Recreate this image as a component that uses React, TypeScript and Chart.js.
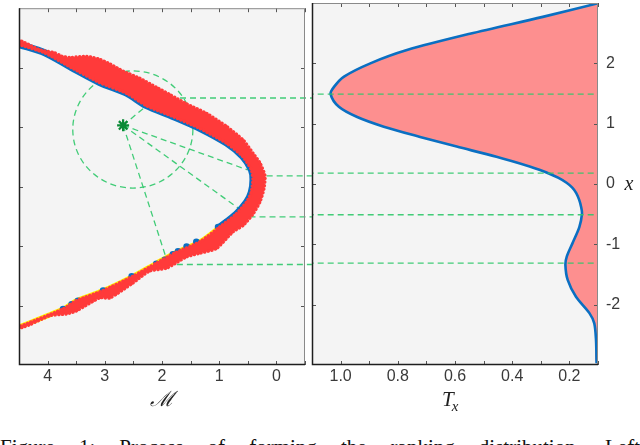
import React, { useEffect, useRef } from 'react';
import { Chart, registerables } from 'chart.js';

Chart.register(...registerables);

// ---------------- data ----------------
// Left panel: underlying manifold (centre line), ℳ coordinate and x value
const manifoldM = [4.5, 4.05, 3.58, 3.09, 2.62, 2.27, 1.81, 1.34, 0.87, 0.59, 0.44, 0.41, 0.44, 0.52, 0.7, 0.99, 1.34, 1.78, 2.1, 2.51, 3.03, 3.5, 3.73, 4.55];
const manifoldX = [2.39, 2.25, 2.0, 1.75, 1.57, 1.36, 1.18, 0.98, 0.73, 0.51, 0.29, 0.12, -0.1, -0.26, -0.46, -0.68, -0.93, -1.12, -1.29, -1.51, -1.75, -1.92, -2.06, -2.38];
// number of manifold points covered by the dense blue samples
const denseBlueCount = 16;

// outer edge of the red sample cloud
const cloudOuterM = [4.51, 4.4, 4.14, 3.88, 3.75, 3.61, 3.32, 3.09, 2.91, 2.68, 2.39, 2.1, 1.87, 1.57, 1.22, 0.87, 0.58, 0.41, 0.29, 0.2, 0.22, 0.29, 0.41, 0.58, 0.76, 1.05, 1.34, 1.57, 1.92, 2.22, 2.51, 2.91, 3.09, 3.5, 3.67, 3.96, 4.31, 4.45];
const cloudOuterX = [2.47, 2.42, 2.3, 2.25, 2.19, 2.17, 2.19, 2.14, 2.06, 1.94, 1.82, 1.67, 1.55, 1.39, 1.23, 1.01, 0.78, 0.56, 0.4, 0.18, -0.04, -0.26, -0.46, -0.65, -0.76, -1.04, -1.12, -1.18, -1.37, -1.42, -1.62, -1.87, -1.87, -2.09, -2.14, -2.17, -2.32, -2.37];

// sparse blue samples on the lower branch
const blueDotM = [3.73, 3.58, 3.47, 3.03, 2.53, 2.1, 1.95, 1.81, 1.72, 1.57, 1.4, 1.02, 0.87];
const blueDotX = [-2.06, -1.98, -1.92, -1.75, -1.51, -1.3, -1.23, -1.14, -1.09, -1.01, -0.93, -0.68, -0.6];

// green query point, its neighbourhood circle and rays
const starM = 2.68;
const starX = 1.03;
const circleCenter = [2.51, 0.96];
const circleRadius = [1.05, 0.985];
const rayEndM = [2.27, 0.5, 0.64, 1.9];
const rayEndX = [1.36, 0.28, -0.38, -1.28];

// horizontal guide levels and where they start in the left panel
const guideX = [1.49, 0.18, -0.51, -1.31];
const guideStartM = [1.86, 0.17, 0.47, 1.74];

// Right panel: T_x against x
const densityT = [0.104, 0.293, 0.548, 0.768, 0.896, 0.988, 1.023, 1.035, 1.006, 0.942, 0.849, 0.722, 0.594, 0.455, 0.339, 0.305, 0.27, 0.238, 0.21, 0.19, 0.176, 0.166, 0.159, 0.156, 0.165, 0.189, 0.209, 0.214, 0.206, 0.177, 0.13, 0.113, 0.107, 0.105];
const densityX = [2.99, 2.77, 2.49, 2.22, 2.0, 1.78, 1.61, 1.49, 1.28, 1.11, 0.95, 0.78, 0.62, 0.45, 0.29, 0.235, 0.17, 0.1, 0.02, -0.06, -0.15, -0.26, -0.38, -0.49, -0.71, -0.98, -1.2, -1.34, -1.59, -1.87, -2.14, -2.31, -2.58, -2.97];

// tick labels
const mTickLabels = [4, 3, 2, 1, 0];
const tTickLabels = ['1.0', '0.8', '0.6', '0.4', '0.2'];
const xTickLabels = [2, 1, 0, -1, -2];

const caption = 'Figure 1:  Process of forming the ranking distribution.  Left';

// ---------------- styling ----------------
const GREEN = 'rgba(46, 200, 105, 0.9)';
const DASH = [6, 4];
const RED = '#ff3a3a';
const BLUE = '#0a6fc2';
const TICK_FONT = { family: '"Liberation Sans", Arial, sans-serif', size: 16 };
const TICK_COLOR = '#3a3a3a';

const pts = (a: number[], b: number[]) => a.map((v, i) => ({ x: v, y: b[i] }));

const framePlugin = {
  id: 'frame',
  beforeDraw(chart: any) {
    const { ctx, chartArea: a } = chart;
    ctx.save();
    ctx.fillStyle = '#f4f4f4';
    ctx.fillRect(a.left, a.top, a.right - a.left, a.bottom - a.top);
    ctx.restore();
  },
  afterDraw(chart: any) {
    const { ctx, chartArea: a, scales } = chart;
    const L = 4;
    ctx.save();
    ctx.strokeStyle = '#555';
    ctx.lineWidth = 1;
    ctx.beginPath();
    for (const t of scales.x.ticks) {
      const px = Math.round(scales.x.getPixelForValue(t.value)) + 0.5;
      ctx.moveTo(px, a.top);
      ctx.lineTo(px, a.top + L);
      ctx.moveTo(px, a.bottom);
      ctx.lineTo(px, a.bottom - L);
    }
    for (const t of scales.y.ticks) {
      const py = Math.round(scales.y.getPixelForValue(t.value)) + 0.5;
      ctx.moveTo(a.left, py);
      ctx.lineTo(a.left + L, py);
      ctx.moveTo(a.right, py);
      ctx.lineTo(a.right - L, py);
    }
    ctx.stroke();
    ctx.strokeStyle = '#8a8a8a';
    ctx.lineWidth = 1;
    ctx.strokeRect(a.left + 0.5, a.top + 0.5, a.right - a.left - 1, a.bottom - a.top - 1);
    ctx.strokeStyle = '#1e1e1e';
    ctx.lineWidth = 1.5;
    ctx.beginPath();
    ctx.moveTo(a.left + 0.5, a.top);
    ctx.lineTo(a.left + 0.5, a.bottom - 0.5);
    ctx.lineTo(a.right, a.bottom - 0.5);
    ctx.stroke();
    ctx.restore();
  },
};

const yTicksFilter = (s: any) => {
  s.ticks = s.ticks.filter((t: any) => xTickLabels.includes(Math.round(t.value)) && Math.abs(t.value - Math.round(t.value)) < 1e-6);
};

const hiddenGrid = { display: false, drawTicks: false };

function LeftChart() {
  const ref = useRef<HTMLCanvasElement>(null);
  useEffect(() => {
    const centre = pts(manifoldM, manifoldX);
    const cloud = [...pts(cloudOuterM, cloudOuterX), ...centre.slice().reverse()];
    const rays = rayEndM.map((m, i) => ({
      data: [{ x: starM, y: starX }, { x: m, y: rayEndX[i] }],
      showLine: true, borderColor: GREEN, borderWidth: 1.3, borderDash: DASH, pointRadius: 0, fill: false,
    }));
    const guides = guideX.map((g, i) => ({
      data: [{ x: guideStartM[i], y: g }, { x: -0.62, y: g }],
      showLine: true, borderColor: GREEN, borderWidth: 1.3, borderDash: DASH, pointRadius: 0, fill: false, clip: false,
    }));
    const circlePlugin = {
      id: 'circle',
      beforeDatasetsDraw(chart: any) {
        const { ctx, scales } = chart;
        const cx = scales.x.getPixelForValue(circleCenter[0]);
        const cy = scales.y.getPixelForValue(circleCenter[1]);
        const rx = Math.abs(scales.x.getPixelForValue(circleCenter[0] + circleRadius[0]) - cx);
        const ry = Math.abs(scales.y.getPixelForValue(circleCenter[1] + circleRadius[1]) - cy);
        ctx.save();
        ctx.strokeStyle = GREEN;
        ctx.lineWidth = 1.3;
        ctx.setLineDash(DASH);
        ctx.beginPath();
        ctx.ellipse(cx, cy, rx, ry, 0, 0, Math.PI * 2);
        ctx.stroke();
        ctx.restore();
      },
      afterDraw(chart: any) {
        const { ctx, chartArea: a } = chart;
        ctx.save();
        ctx.fillStyle = '#222';
        ctx.font = 'italic 21px "DejaVu Serif", serif';
        ctx.textAlign = 'center';
        ctx.textBaseline = 'alphabetic';
        ctx.fillText('ℳ', (a.left + a.right) / 2, 406);
        ctx.restore();
      },
    };
    const chart = new Chart(ref.current as HTMLCanvasElement, {
      type: 'scatter',
      data: {
        datasets: [
          { data: [{ x: starM, y: starX }], pointStyle: 'star', pointRadius: 6, borderColor: '#0b8a36', borderWidth: 2.2, backgroundColor: '#0b8a36' },
          { data: cloud, showLine: true, fill: 'shape', backgroundColor: RED, borderColor: RED, borderWidth: 3.5, borderDash: [0.1, 3.5], borderCapStyle: 'round', pointRadius: 0, tension: 0.2 },
          { data: pts(blueDotM, blueDotX), pointRadius: 3.3, backgroundColor: BLUE, borderColor: BLUE, borderWidth: 0 },
          { data: centre.slice(0, denseBlueCount), showLine: true, borderColor: BLUE, borderWidth: 7, borderCapStyle: 'round', pointRadius: 0, tension: 0.3, fill: false },
          { data: centre, showLine: true, borderColor: '#ffee00', borderWidth: 5, pointRadius: 0, tension: 0.3, fill: false },
          ...rays,
          ...guides,
        ] as any,
      },
      options: {
        animation: false,
        responsive: false,
        devicePixelRatio: 1,
        events: [],
        layout: { padding: { left: 0, right: 15, top: 3, bottom: 0 } },
        plugins: { legend: { display: false }, tooltip: { enabled: false } },
        scales: {
          x: {
            type: 'linear', min: -0.5, max: 4.5, reverse: true,
            grid: hiddenGrid, border: { display: false },
            ticks: {
              stepSize: 0.5, autoSkip: false, maxRotation: 0, padding: 2, color: TICK_COLOR, font: TICK_FONT,
              callback: (v: any) => (mTickLabels.includes(v) ? String(v) : ''),
            },
            afterFit: (s: any) => { s.height = 55; s.paddingLeft = 0; s.paddingRight = 0; },
          },
          y: {
            type: 'linear', position: 'left', min: -3, max: 3,
            grid: hiddenGrid, border: { display: false },
            ticks: { stepSize: 1, display: false },
            afterBuildTicks: yTicksFilter,
            afterFit: (s: any) => { s.width = 19; s.paddingTop = 0; s.paddingBottom = 0; },
          },
        },
      } as any,
      plugins: [framePlugin, circlePlugin],
    });
    return () => chart.destroy();
  }, []);
  return <canvas ref={ref} width={320} height={420} style={{ position: 'absolute', left: 0, top: 0, width: 320, height: 420 }} />;
}

function RightChart() {
  const ref = useRef<HTMLCanvasElement>(null);
  useEffect(() => {
    const curve = pts(densityT, densityX);
    const area = [...curve, { x: 0.0, y: -3.4 }, { x: 0.0, y: 3.4 }];
    const guides = guideX.map((g) => ({
      data: [{ x: 1.15, y: g }, { x: 0.05, y: g }],
      showLine: true, borderColor: GREEN, borderWidth: 1.3, borderDash: DASH, pointRadius: 0, fill: false,
    }));
    const labelPlugin = {
      id: 'labels',
      afterDraw(chart: any) {
        const { ctx } = chart;
        ctx.save();
        ctx.fillStyle = '#222';
        ctx.textBaseline = 'alphabetic';
        ctx.font = 'italic 21px "Liberation Serif", serif';
        ctx.textAlign = 'left';
        const tx = 142;
        ctx.fillText('T', tx, 406);
        const w = ctx.measureText('T').width;
        ctx.font = 'italic 15px "Liberation Serif", serif';
        ctx.fillText('x', tx + w - 2, 411);
        ctx.font = 'italic 20px "Liberation Serif", serif';
        ctx.textAlign = 'center';
        ctx.fillText('x', 329, 190);
        ctx.restore();
      },
    };
    const chart = new Chart(ref.current as HTMLCanvasElement, {
      type: 'scatter',
      data: {
        datasets: [
          ...guides,
          { data: curve, showLine: true, borderColor: BLUE, borderWidth: 2.6, pointRadius: 0, tension: 0.3, fill: false },
          { data: area, showLine: true, borderWidth: 0, borderColor: 'rgba(0,0,0,0)', backgroundColor: '#fd8f8f', fill: 'shape', pointRadius: 0, tension: 0.3 },
        ] as any,
      },
      options: {
        animation: false,
        responsive: false,
        devicePixelRatio: 1,
        events: [],
        layout: { padding: { left: 12, right: 0, top: 3, bottom: 0 } },
        plugins: { legend: { display: false }, tooltip: { enabled: false } },
        scales: {
          x: {
            type: 'linear', min: 0.1, max: 1.1, reverse: true,
            grid: hiddenGrid, border: { display: false },
            ticks: {
              stepSize: 0.1, autoSkip: false, maxRotation: 0, padding: 2, color: TICK_COLOR, font: TICK_FONT,
              callback: (v: any) => {
                const s = Number(v).toFixed(1);
                return tTickLabels.includes(s) ? s : '';
              },
            },
            afterFit: (s: any) => { s.height = 55; s.paddingLeft = 0; s.paddingRight = 0; },
          },
          y: {
            type: 'linear', position: 'right', min: -3, max: 3,
            grid: hiddenGrid, border: { display: false },
            ticks: { stepSize: 1, padding: 8, color: TICK_COLOR, font: TICK_FONT },
            afterBuildTicks: yTicksFilter,
            afterFit: (s: any) => { s.width = 42; s.paddingTop = 0; s.paddingBottom = 0; },
          },
        },
      } as any,
      plugins: [framePlugin, labelPlugin],
    });
    return () => chart.destroy();
  }, []);
  return <canvas ref={ref} width={340} height={420} style={{ position: 'absolute', left: 300, top: 0, width: 340, height: 420 }} />;
}

export default function App() {
  return (
    <div style={{ position: 'fixed', left: 0, top: 0, width: 640, height: 445, background: '#fff', overflow: 'hidden' }}>
      <LeftChart />
      <RightChart />
      <div
        style={{
          position: 'absolute', left: 0, top: 437, width: 640, whiteSpace: 'nowrap',
          font: '21px "Liberation Serif", "Times New Roman", serif', lineHeight: '21px', color: '#111',
          textAlign: 'justify', textAlignLast: 'justify' as any,
        }}
      >
        {caption}
      </div>
    </div>
  );
}
